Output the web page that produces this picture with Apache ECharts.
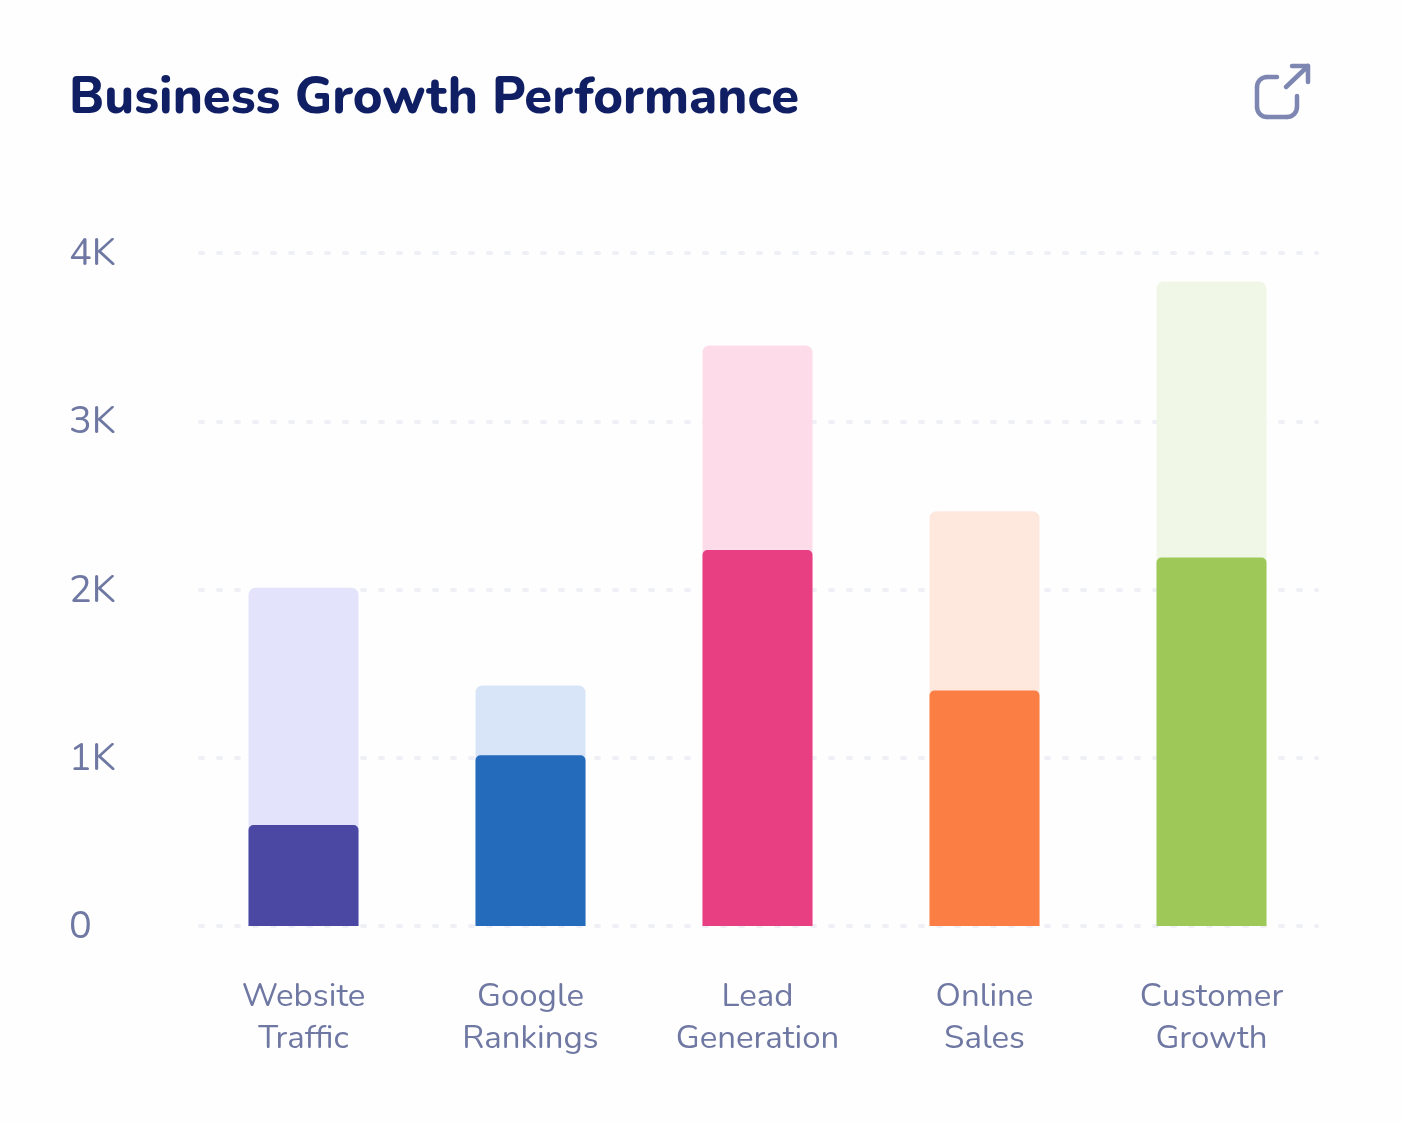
<!DOCTYPE html>
<html>
<head>
<meta charset="utf-8">
<style>html,body{margin:0;padding:0;background:#fefefe}#chart{width:1402px;height:1122px}</style>
<script src="https://cdn.jsdelivr.net/npm/echarts@6/dist/echarts.min.js"></script>
</head>
<body>
<div id="chart"></div>
<script>
// Business growth figures per metric
const categories = ['Website\nTraffic', 'Google\nRankings', 'Lead\nGeneration', 'Online\nSales', 'Customer\nGrowth'];
const targetValues = [2010, 1430, 3450, 2465, 3830];
const actualValues = [600, 1015, 2235, 1400, 2190];
const yTicks = { 0: '0', 1000: '1K', 2000: '2K', 3000: '3K', 4000: '4K' };

const solidColors = ['#4b48a3', '#256bbb', '#e83e82', '#fb7f45', '#9ec958'];
const paleColors = ['#e3e3fb', '#d8e5f8', '#fddbe8', '#fee8de', '#f0f7e6'];
const fontFamily = 'Nunito, Lato, "Noto Sans", sans-serif';
const labelColor = '#6f78a2';

const chart = echarts.init(document.getElementById('chart'), null, { renderer: 'canvas' });

const colored = (values, colors, radius) => values.map((value, i) => ({
  value,
  itemStyle: { color: colors[i], borderRadius: [radius, radius, 0, 0] }
}));

// Open-in-new icon in the top right corner, built from strokes
const iconStyle = { fill: 'none', stroke: '#7e86b2', lineWidth: 4.5, lineCap: 'round', lineJoin: 'round' };
const stroke = points => ({ type: 'polyline', shape: { points }, style: iconStyle });
const corner = (cx, cy, startAngle) => ({
  type: 'arc',
  shape: { cx, cy, r: 10, startAngle, endAngle: startAngle + Math.PI / 2, clockwise: true },
  style: iconStyle
});

chart.setOption({
  animation: false,
  backgroundColor: '#fefefe',
  title: {
    text: 'Business Growth Performance',
    left: 64,
    top: 70,
    textStyle: { fontFamily, fontSize: 50.7, fontWeight: 800, color: '#101f63' }
  },
  // Gridlines sit in their own grid; the bars use a slightly wider one
  grid: [
    { left: 200, right: 85, top: 253, height: 673 },
    { left: 190, right: 77, top: 253, height: 673 }
  ],
  xAxis: [
    { gridIndex: 0, type: 'category', data: categories, show: false },
    {
      gridIndex: 1,
      type: 'category',
      data: categories,
      axisLine: { show: false },
      axisTick: { show: false },
      axisLabel: {
        margin: 51,
        fontFamily,
        fontSize: 33,
        lineHeight: 42,
        color: labelColor
      }
    }
  ],
  yAxis: [
    {
      gridIndex: 0,
      type: 'value',
      min: 0,
      max: 4000,
      interval: 1000,
      axisLine: { show: false },
      axisTick: { show: false },
      axisLabel: {
        margin: 131,
        align: 'left',
        verticalAlign: 'top',
        lineHeight: 6,
        fontFamily,
        fontSize: 38,
        color: labelColor,
        formatter: v => yTicks[v]
      },
      splitLine: {
        lineStyle: { color: '#eff0f6', width: 4, type: [3, 15], cap: 'round' }
      }
    },
    { gridIndex: 1, type: 'value', min: 0, max: 4000, interval: 1000, show: false }
  ],
  series: [
    {
      name: 'Target',
      type: 'bar',
      xAxisIndex: 1,
      yAxisIndex: 1,
      barWidth: 110,
      barGap: '-100%',
      data: colored(targetValues, paleColors, 7)
    },
    {
      name: 'Actual',
      type: 'bar',
      xAxisIndex: 1,
      yAxisIndex: 1,
      barWidth: 110,
      barGap: '-100%',
      data: colored(actualValues, solidColors, 5)
    }
  ],
  graphic: [
    stroke([[1277, 77], [1267, 77]]),
    corner(1267, 87, Math.PI),
    stroke([[1257, 87], [1257, 107]]),
    corner(1267, 107, Math.PI / 2),
    stroke([[1267, 117], [1287, 117]]),
    corner(1287, 107, 0),
    stroke([[1297, 107], [1297, 96]]),
    stroke([[1286, 87], [1308, 66]]),
    stroke([[1292, 66], [1308, 66], [1308, 82]])
  ]
});
</script>
</body>
</html>
